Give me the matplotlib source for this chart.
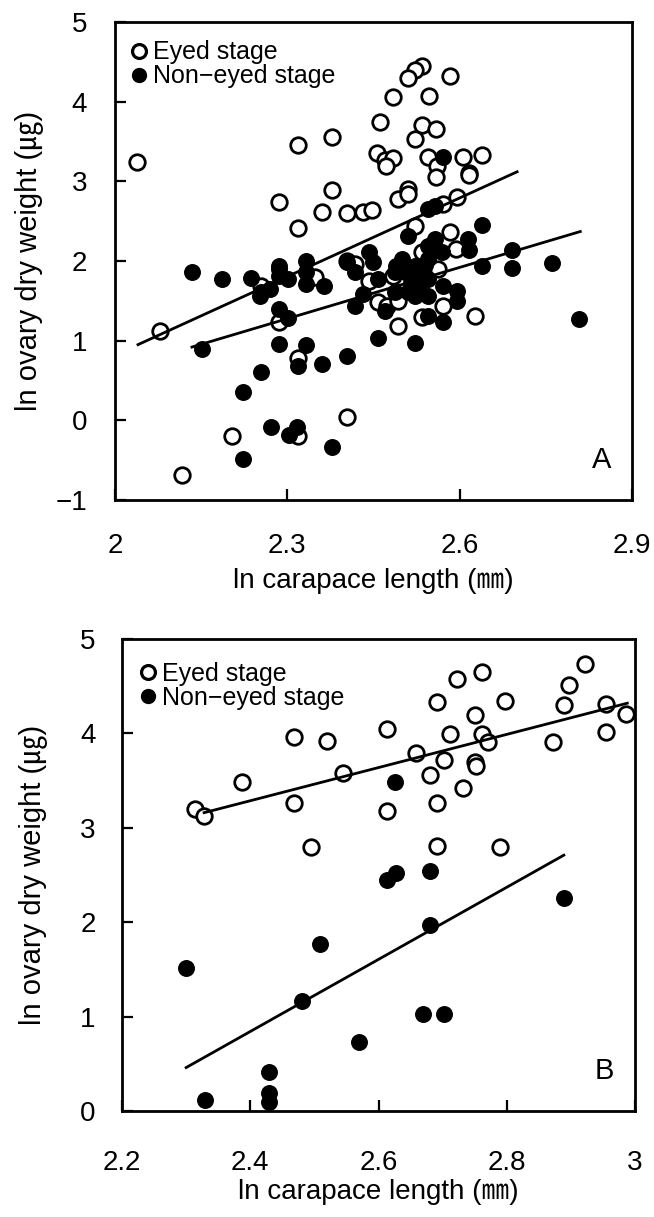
import matplotlib
matplotlib.use("Agg")
import matplotlib.pyplot as plt
from matplotlib.lines import Line2D

plt.rcParams['font.family'] = ['Liberation Sans', 'Noto Sans CJK KR', 'DejaVu Sans']

# ---------------- Panel A data ----------------
a_eyed_x = [2.038, 2.079, 2.117, 2.204, 2.318, 2.403, 2.318, 2.286, 2.255, 2.349,
            2.403, 2.417, 2.318, 2.377, 2.286, 2.377, 2.361, 2.403, 2.431, 2.447,
            2.318, 2.461, 2.456, 2.484, 2.470, 2.484, 2.471, 2.492, 2.484, 2.443,
            2.457, 2.473, 2.492, 2.492, 2.534, 2.522, 2.510, 2.583, 2.546, 2.534,
            2.558, 2.522, 2.545, 2.560, 2.558, 2.606, 2.639, 2.616, 2.616, 2.510,
            2.510, 2.595, 2.571, 2.522, 2.583, 2.534, 2.593, 2.534, 2.571, 2.627,
            2.562]
a_eyed_y = [3.24, 1.12, -0.68, -0.20, -0.20, 0.04, 0.78, 1.24, 1.69, 1.80,
            2.00, 1.96, 3.46, 3.56, 2.74, 2.89, 2.61, 2.60, 2.61, 2.64,
            2.42, 3.74, 3.35, 4.06, 3.27, 3.29, 3.19, 2.78, 1.81, 1.75,
            1.49, 1.44, 1.50, 1.19, 4.45, 4.40, 4.30, 4.32, 4.07, 3.71,
            3.66, 3.53, 3.30, 3.19, 3.06, 3.30, 3.33, 3.11, 3.08, 2.90,
            2.84, 2.80, 2.71, 2.44, 2.36, 2.11, 2.15, 1.30, 1.44, 1.31,
            1.90]

a_non_x = [2.134, 2.187, 2.237, 2.152, 2.255, 2.269, 2.253, 2.285, 2.286, 2.302,
           2.332, 2.333, 2.332, 2.363, 2.286, 2.302, 2.286, 2.333, 2.318, 2.361,
           2.403, 2.255, 2.222, 2.272, 2.316, 2.303, 2.377, 2.222, 2.286, 2.403,
           2.443, 2.449, 2.417, 2.457, 2.431, 2.417, 2.470, 2.457, 2.490, 2.487,
           2.571, 2.545, 2.557, 2.510, 2.639, 2.614, 2.616, 2.557, 2.545, 2.569,
           2.691, 2.639, 2.691, 2.761, 2.499, 2.504, 2.522, 2.522, 2.534, 2.545,
           2.545, 2.510, 2.522, 2.545, 2.571, 2.595, 2.595, 2.545, 2.571, 2.522,
           2.487, 2.808, 2.530, 2.540, 2.515]
a_non_y = [1.86, 1.78, 1.79, 0.90, 1.61, 1.65, 1.56, 1.94, 1.81, 1.77,
           2.00, 1.86, 1.71, 1.68, 1.40, 1.28, 0.96, 0.94, 0.68, 0.71,
           0.81, 0.61, 0.36, -0.08, -0.08, -0.19, -0.33, -0.49, 1.90, 1.99,
           2.11, 1.99, 1.86, 1.77, 1.59, 1.44, 1.37, 1.03, 1.94, 1.61,
           3.31, 2.65, 2.69, 2.31, 2.45, 2.27, 2.14, 2.27, 2.19, 2.11,
           2.14, 1.94, 1.91, 1.98, 2.03, 1.86, 1.94, 1.78, 1.86, 1.78,
           2.03, 1.61, 1.56, 1.56, 1.68, 1.62, 1.50, 1.31, 1.24, 0.97,
           1.86, 1.27, 1.70, 1.95, 1.72]

a_fit_eyed_x = [2.04, 2.70]
a_fit_eyed_y = [0.95, 3.12]
a_fit_non_x = [2.134, 2.81]
a_fit_non_y = [0.92, 2.37]

a_xticks = [2.0, 2.3, 2.6, 2.9]
a_xticklabels = ["2", "2.3", "2.6", "2.9"]
a_yticks = [-1, 0, 1, 2, 3, 4, 5]
a_yticklabels = ["\u22121", "0", "1", "2", "3", "4", "5"]

# ---------------- Panel B data ----------------
b_eyed_x = [2.314, 2.328, 2.387, 2.468, 2.468, 2.520, 2.545, 2.494, 2.614, 2.658,
            2.691, 2.722, 2.761, 2.750, 2.711, 2.761, 2.770, 2.798, 2.702, 2.750,
            2.752, 2.680, 2.731, 2.614, 2.691, 2.691, 2.789, 2.872, 2.889, 2.897,
            2.922, 2.955, 2.955, 2.986]
b_eyed_y = [3.20, 3.12, 3.48, 3.96, 3.26, 3.92, 3.58, 2.80, 4.05, 3.79,
            4.33, 4.58, 4.65, 4.19, 3.99, 3.99, 3.91, 4.34, 3.72, 3.70,
            3.65, 3.56, 3.42, 3.18, 3.26, 2.81, 2.80, 3.91, 4.30, 4.51,
            4.74, 4.31, 4.01, 4.21]

b_non_x = [2.625, 2.614, 2.627, 2.681, 2.889, 2.681, 2.300, 2.508, 2.481, 2.569,
           2.430, 2.430, 2.430, 2.330, 2.670, 2.702]
b_non_y = [3.48, 2.45, 2.52, 2.54, 2.26, 1.97, 1.52, 1.77, 1.16, 0.73,
           0.41, 0.19, 0.10, 0.12, 1.03, 1.03]

b_fit_eyed_x = [2.328, 2.988]
b_fit_eyed_y = [3.16, 4.32]
b_fit_non_x = [2.30, 2.889]
b_fit_non_y = [0.46, 2.71]

b_xticks = [2.2, 2.4, 2.6, 2.8, 3.0]
b_xticklabels = ["2.2", "2.4", "2.6", "2.8", "3"]
b_yticks = [0, 1, 2, 3, 4, 5]
b_yticklabels = ["0", "1", "2", "3", "4", "5"]

legend_labels = ["Eyed stage", "Non\u2212eyed stage"]
xlabel = "ln carapace length (\u339c)"
ylabel = "ln ovary dry weight (\u338d)"

fig = plt.figure(figsize=(6.54, 12.17), dpi=100)
axA = fig.add_axes([115/654, 1-500/1217, (632-115)/654, (500-22)/1217])
axB = fig.add_axes([122/654, 1-1111/1217, (635-122)/654, (1111-639)/1217])

MS = 125
LW = 2.0
FS = 20


def style(ax, xt, xtl, yt, ytl, xlim, ylim, label, xpad, ypad, xlab_y, ylab_x, leganchor):
    ax.set_xlim(*xlim)
    ax.set_ylim(*ylim)
    ax.set_xticks(xt)
    ax.set_xticklabels(xtl, fontsize=FS)
    ax.set_yticks(yt)
    ax.set_yticklabels(ytl, fontsize=FS)
    ax.tick_params(direction='in', length=8, width=1.6, top=False, right=False)
    ax.tick_params(axis='x', pad=xpad)
    ax.tick_params(axis='y', pad=ypad)
    for s in ax.spines.values():
        s.set_linewidth(2.0)
    ax.set_xlabel(xlabel, fontsize=FS)
    ax.set_ylabel(ylabel, fontsize=21)
    ax.xaxis.set_label_coords(0.5, xlab_y)
    ax.yaxis.set_label_coords(ylab_x, 0.5)
    ax.text(0.96, 0.055, label, transform=ax.transAxes, fontsize=21,
            ha='right', va='bottom')
    handles = [
        Line2D([], [], marker='o', linestyle='none', markersize=10,
               markerfacecolor='white', markeredgecolor='black', markeredgewidth=2.3),
        Line2D([], [], marker='o', linestyle='none', markersize=10,
               markerfacecolor='black', markeredgecolor='black'),
    ]
    ax.legend(handles, legend_labels, loc='upper left', bbox_to_anchor=leganchor,
              frameon=False, fontsize=18, handletextpad=0.05, labelspacing=0.0,
              borderaxespad=0.0, handlelength=1.0, borderpad=0.3)


# Panel A
axA.scatter(a_eyed_x, a_eyed_y, s=MS, facecolors='white', edgecolors='black',
            linewidths=LW, zorder=2)
axA.scatter(a_non_x, a_non_y, s=MS, facecolors='black', edgecolors='black',
            linewidths=1.0, zorder=3)
axA.plot(a_fit_eyed_x, a_fit_eyed_y, color='black', lw=2.0, zorder=4)
axA.plot(a_fit_non_x, a_fit_non_y, color='black', lw=2.0, zorder=4)
style(axA, a_xticks, a_xticklabels, a_yticks, a_yticklabels, (2.0, 2.9), (-1, 5), "A",
      24, 20, -0.142, -0.138, (0.008, 0.977))

# Panel B
axB.scatter(b_eyed_x, b_eyed_y, s=MS, facecolors='white', edgecolors='black',
            linewidths=LW, zorder=2)
axB.scatter(b_non_x, b_non_y, s=MS, facecolors='black', edgecolors='black',
            linewidths=1.0, zorder=3)
axB.plot(b_fit_eyed_x, b_fit_eyed_y, color='black', lw=2.0, zorder=4)
axB.plot(b_fit_non_x, b_fit_non_y, color='black', lw=2.0, zorder=4)
style(axB, b_xticks, b_xticklabels, b_yticks, b_yticklabels, (2.2, 3.0), (0, 5), "B",
      28, 19, -0.144, -0.145, (0.012, 0.967))

fig.savefig("out.png", dpi=100)
